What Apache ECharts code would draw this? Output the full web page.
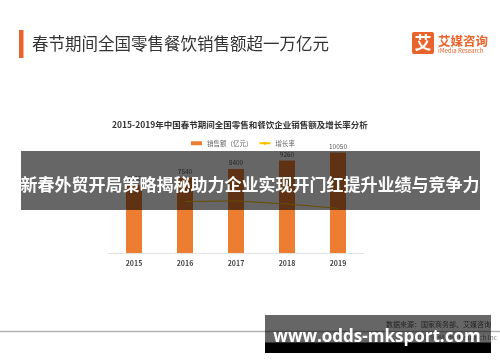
<!DOCTYPE html>
<html><head><meta charset="utf-8">
<script src="https://cdn.jsdelivr.net/npm/echarts@6/dist/echarts.min.js"></script>
<style>html,body{margin:0;padding:0;background:#fff;}#c{width:500px;height:362px;}</style>
</head><body><div id="c"></div>
<script>
var categories = ['2015','2016','2017','2018','2019'];
var sales = [6780, 7540, 8400, 9260, 10050];
var growth = [null, 11.2, 11.4, 10.2, 8.5];
var legendNames = ['销售额（亿元）', '增长率'];
var headerTitle = '春节期间全国零售餐饮销售额超一万亿元';
var chartTitle = '2015-2019年中国春节期间全国零售和餐饮企业销售额及增长率分析';
var overlayText = '新春外贸开局策略揭秘助力企业实现开门红提升业绩与竞争力';
var watermark = 'www.odds-mksport.com';
var sourceText = '数据来源：国家商务部、艾媒咨询';
var copyText = '©2019 iiMedia Research Inc';

var CJK = '"Noto Sans CJK SC", "Noto Sans", sans-serif';
var chart = echarts.init(document.getElementById('c'), null, {renderer: 'canvas'});
chart.setOption({
  animation: false,
  backgroundColor: '#ffffff',
  textStyle: {fontFamily: CJK},
  title: {
    text: chartTitle, left: 107, top: 116,
    textStyle: {fontSize: 8.5, fontWeight: 'bold', color: '#333', fontFamily: CJK}
  },
  legend: {
    left: 186, top: 135, itemGap: 6, itemWidth: 11, itemHeight: 4,
    textStyle: {fontSize: 6.5, color: '#666', fontFamily: CJK},
    data: [{name: legendNames[0], icon: 'rect'}, {name: legendNames[1]}]
  },
  grid: {left: 108.5, width: 255, top: 133, height: 120, containLabel: false},
  xAxis: {
    type: 'category', data: categories,
    axisLine: {lineStyle: {color: '#e2e2e2', width: 1}},
    axisTick: {show: false},
    axisLabel: {fontSize: 7, fontWeight: 'bold', color: '#444', margin: 7, fontFamily: CJK}
  },
  yAxis: [
    {type: 'value', min: 0, max: 12000, show: false, splitLine: {show: false}},
    {type: 'value', min: -9, max: 38, show: false, splitLine: {show: false}}
  ],
  series: [
    {
      name: legendNames[0], type: 'bar', data: sales, barWidth: 16,
      itemStyle: {color: '#ed7d31'},
      label: {show: true, position: 'top', distance: 3, fontSize: 6.5, color: '#595959', fontFamily: CJK}
    },
    {
      name: legendNames[1], type: 'line', yAxisIndex: 1, data: growth,
      symbol: 'none', showSymbol: false, connectNulls: false,
      lineStyle: {color: '#ffc000', width: 1}, itemStyle: {color: '#ffc000'},
      label: {show: true, position: 'top', distance: 4, fontSize: 6.5, color: '#ffe8cc',
        formatter: function (p) { return p.value == null ? '' : p.value + '%'; }}
    }
  ],
  graphic: [
    {type: 'rect', shape: {x: 19, y: 30, width: 4.5, height: 28}, style: {fill: '#e8642c'}},
    {type: 'text', x: 32, y: 44, style: {text: headerTitle, font: '16.5px ' + CJK, fill: '#333', textVerticalAlign: 'middle'}},
    {type: 'rect', shape: {x: 412, y: 32, width: 22, height: 22, r: 2}, style: {fill: '#e8642c'}},
    {type: 'text', x: 423, y: 43, style: {text: '艾', font: 'bold 17px ' + CJK, fill: '#fff', textAlign: 'center', textVerticalAlign: 'middle'}},
    {type: 'text', x: 438, y: 41, style: {text: '艾媒咨询', font: 'bold 12.5px ' + CJK, fill: '#e8642c', textVerticalAlign: 'middle'}},
    {type: 'text', x: 438, y: 51, style: {text: 'iMedia Research', font: '6px ' + CJK, fill: '#e8642c', textVerticalAlign: 'middle'}},
    {type: 'line', shape: {x1: 0, y1: 331.5, x2: 500, y2: 331.5}, style: {stroke: '#b4b4b4', lineWidth: 1.5}},
    {type: 'text', x: 491, y: 324, style: {text: sourceText, font: '7px ' + CJK, fill: '#555', textAlign: 'right', textVerticalAlign: 'middle'}},
    {type: 'text', x: 497, y: 338, style: {text: copyText, font: '6.5px ' + CJK, fill: '#777', textAlign: 'right', textVerticalAlign: 'middle'}},
    {type: 'rect', z: 100, shape: {x: 21, y: 151, width: 459, height: 59}, style: {fill: 'rgba(0,0,0,0.6)'}},
    {type: 'text', z: 101, x: 250, y: 185, style: {text: overlayText, font: 'bold 17px ' + CJK, fill: '#fff', textAlign: 'center', textVerticalAlign: 'middle'}},
    {type: 'rect', z: 100, shape: {x: 265, y: 315, width: 226, height: 28}, style: {fill: 'rgba(0,0,0,0.6)'}},
    {type: 'rect', z: 100, shape: {x: 265, y: 342.5, width: 226, height: 10.5}, style: {fill: '#000'}},
    {type: 'text', z: 101, x: 377, y: 337, style: {text: watermark, font: 'bold 17px "Open Sans", "DejaVu Sans", sans-serif', fill: '#fff', textAlign: 'center', textVerticalAlign: 'middle'}}
  ]
});
</script></body></html>
